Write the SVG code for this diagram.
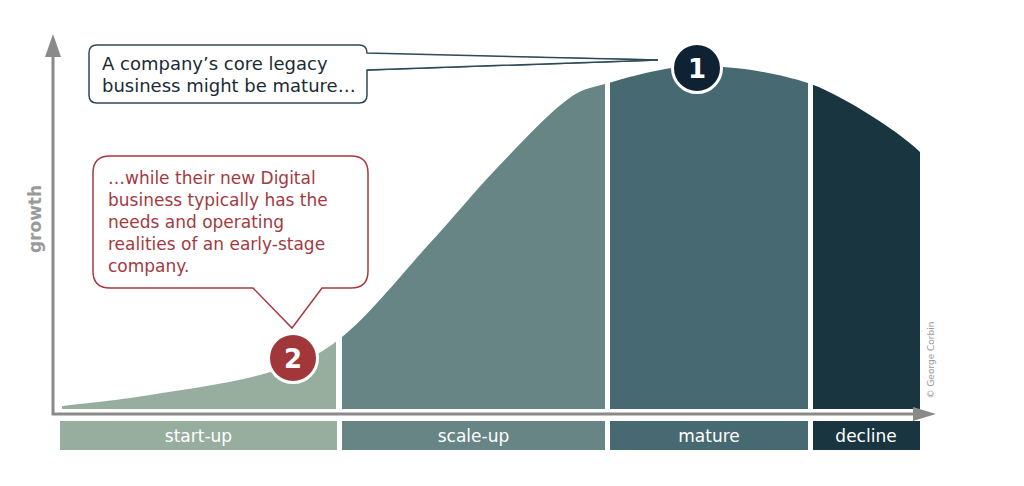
<svg xmlns="http://www.w3.org/2000/svg" width="1024" height="486" viewBox="0 0 1024 486">
<style>
.lbl{font-family:"DejaVu Sans","Liberation Sans",sans-serif;font-size:17px;fill:#ffffff;text-anchor:middle}
.c1t{font-family:"DejaVu Sans","Liberation Sans",sans-serif;font-size:18px;fill:#1b2b35}
.c2t{font-family:"DejaVu Sans","Liberation Sans",sans-serif;font-size:17px;fill:#a33a3f}
.num{font-family:"DejaVu Sans","Liberation Sans",sans-serif;font-size:26px;font-weight:bold;fill:#ffffff;text-anchor:middle}
.axis{stroke:#8a8a8a;stroke-width:3;fill:none}
</style>
<defs>
<clipPath id="under">
<path d="M62,406 C76.7,404.2 115.8,400.5 150,395 C184.2,389.5 235,382.7 267,373 C299,363.3 314.8,358.7 342,337 C369.2,315.3 404.2,271.2 430,243 C455.8,214.8 474.8,191.3 497,168 C519.2,144.7 545,117 563,103 C581,89 582.7,90.2 605,84 C627.3,77.8 663.2,66.2 697,66 C740,66 780,74 808,83 C836,92 895,128 920,152 L920,409 L62,409 Z"/>
</clipPath>
</defs>
<rect width="1024" height="486" fill="#ffffff"/>
<g id="stages" clip-path="url(#under)">
<rect x="62" y="40" width="274" height="372" fill="#97ae9f"/>
<rect x="342" y="40" width="263" height="372" fill="#678585"/>
<rect x="610" y="40" width="198" height="372" fill="#476a72"/>
<rect x="813" y="40" width="107" height="372" fill="#19353f"/>
</g>
<g id="axes">
<path class="axis" d="M53,55 V414 H915"/>
<polygon points="53,34 45,57 61,57" fill="#8a8a8a"/>
<polygon points="936,414 913,407 913,421" fill="#8a8a8a"/>
<text transform="translate(41,219) rotate(-90)" font-family="DejaVu Sans,Liberation Sans,sans-serif" font-size="17" font-weight="bold" fill="#9a9a9a" text-anchor="middle">growth</text>
<text transform="translate(934,360) rotate(-90)" font-family="DejaVu Sans,Liberation Sans,sans-serif" font-size="9" fill="#9a9a9a" text-anchor="middle">© George Corbin</text>
</g>
<g id="stage-labels">
<g id="startup"><rect x="60" y="421" width="277" height="29" fill="#97ae9f"/><text class="lbl" x="198.5" y="442">start-up</text></g>
<g id="scaleup"><rect x="342" y="421" width="263" height="29" fill="#678585"/><text class="lbl" x="473.5" y="442">scale-up</text></g>
<g id="mature"><rect x="610" y="421" width="198" height="29" fill="#476a72"/><text class="lbl" x="709" y="442">mature</text></g>
<g id="decline"><rect x="813" y="421" width="107" height="29" fill="#19353f"/><text class="lbl" x="866" y="442">decline</text></g>
</g>
<g id="connectors">
<path id="callout1-tail" d="M367,54 L658,60 L367,70" fill="#ffffff" stroke="#2e4b57" stroke-width="1.5" stroke-linejoin="miter"/>
</g>
<g id="callout1">
<path d="M97,45 H359 Q367,45 367,53 L658,60 L367,70 V95 Q367,103 359,103 H97 Q89,103 89,95 V53 Q89,45 97,45 Z" fill="#ffffff" stroke="#2e4b57" stroke-width="1.5"/>
<text class="c1t" x="102" y="70">A company’s core legacy</text>
<text class="c1t" x="102" y="92">business might be mature…</text>
</g>
<g id="callout2">
<path d="M110,156 H351 Q368,156 368,173 V271 Q368,288 351,288 H322 L292,328 L253,288 H110 Q93,288 93,271 V173 Q93,156 110,156 Z" fill="#ffffff" stroke="#a83a3f" stroke-width="1.5"/>
<text class="c2t" x="108" y="184">…while their new Digital</text>
<text class="c2t" x="108" y="206">business typically has the</text>
<text class="c2t" x="108" y="228">needs and operating</text>
<text class="c2t" x="108" y="250">realities of an early-stage</text>
<text class="c2t" x="108" y="272">company.</text>
</g>
<g id="marker1">
<circle cx="697" cy="68" r="24.5" fill="#0e2234" stroke="#ffffff" stroke-width="3"/>
<text class="num" x="697" y="77.5">1</text>
</g>
<g id="marker2">
<circle cx="293" cy="358" r="24.5" fill="#a1363b" stroke="#ffffff" stroke-width="3"/>
<text class="num" x="293" y="367.5">2</text>
</g>
</svg>
